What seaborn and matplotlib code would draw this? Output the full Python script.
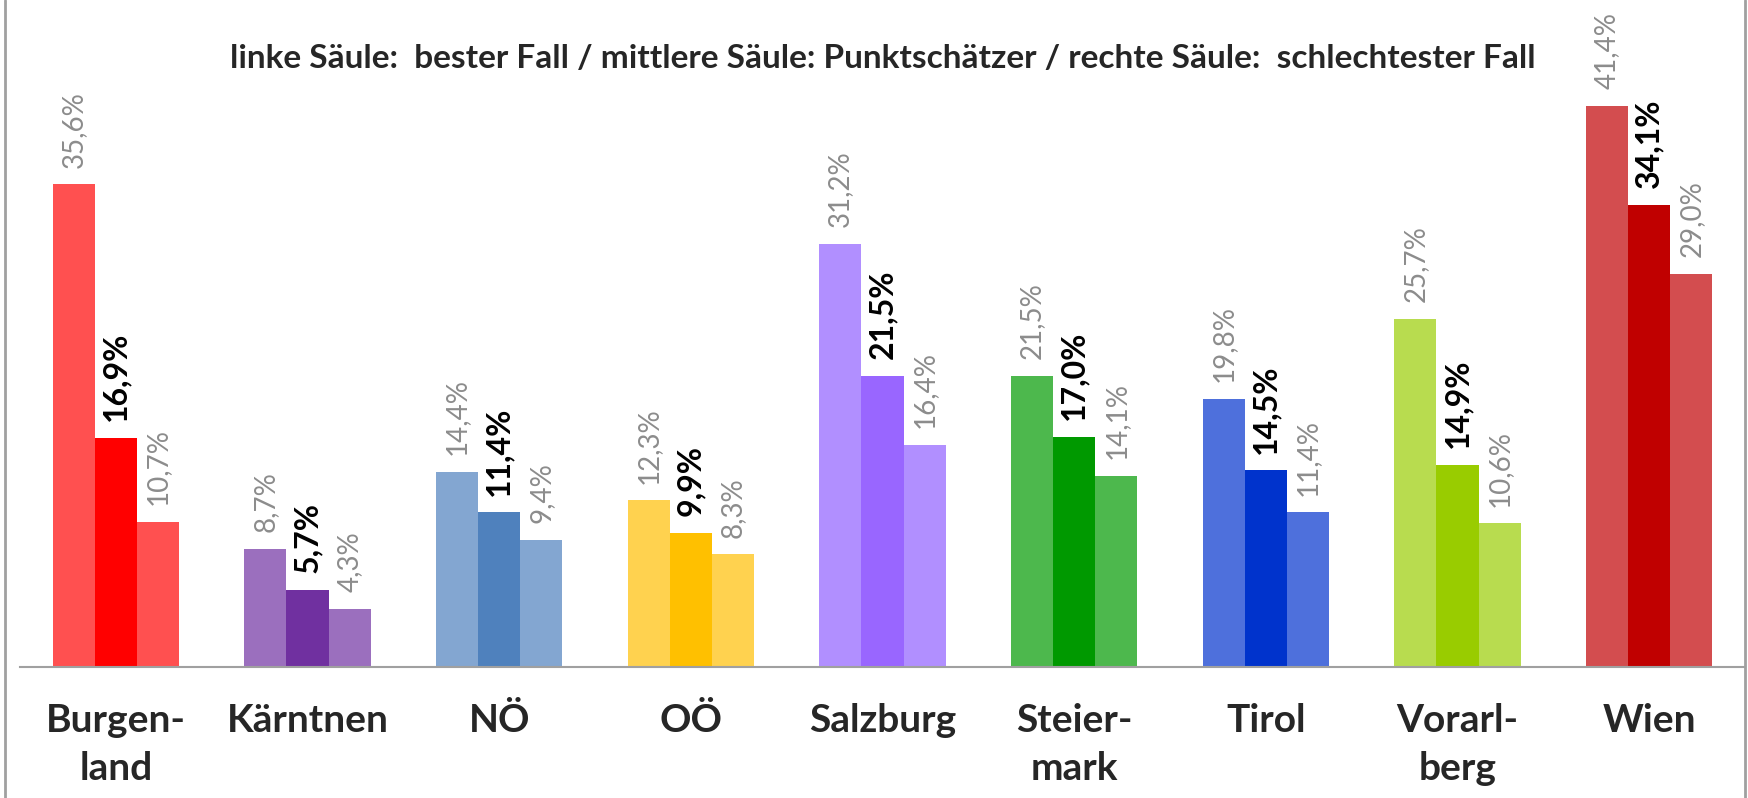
import numpy as np
import matplotlib
matplotlib.use('Agg')
import matplotlib.pyplot as plt
import seaborn as sns
import pandas as pd
from matplotlib.lines import Line2D

# Daten
laender = ['Burgen-\nland', 'Kärntnen', 'NÖ', 'OÖ', 'Salzburg', 'Steier-\nmark', 'Tirol', 'Vorarl-\nberg', 'Wien']
bester_fall = [35.6, 8.7, 14.4, 12.3, 31.2, 21.5, 19.8, 25.7, 41.4]
punktschaetzer = [16.9, 5.7, 11.4, 9.9, 21.5, 17.0, 14.5, 14.9, 34.1]
schlechtester_fall = [10.7, 4.3, 9.4, 8.3, 16.4, 14.1, 11.4, 10.6, 29.0]
faelle = ['bester Fall', 'Punktschätzer', 'schlechtester Fall']

# Farben je Land: aussen (hell) / mitte (kräftig)
farbe_aussen = ['#FF5050', '#9B6FBE', '#83A6D1', '#FFD24F', '#B18FFF', '#4DB84D', '#4E70DC', '#B8DC4F', '#D34D4F']
farbe_mitte = ['#FF0000', '#7030A0', '#4F81BD', '#FFC000', '#9966FF', '#009900', '#0033CC', '#99CC00', '#C00000']

df = pd.DataFrame({
    'Land': laender * 3,
    'Wert': bester_fall + punktschaetzer + schlechtester_fall,
    'Fall': [f for f in faelle for _ in laender],
})

sns.set_style('white')
plt.rcParams['font.family'] = ['Lato', 'DejaVu Sans']

fig = plt.figure(figsize=(17.48, 7.98), dpi=100)
ax = fig.add_axes([20 / 1748, 131 / 798, 1725 / 1748, 667 / 798])

sns.barplot(data=df, x='Land', y='Wert', hue='Fall', hue_order=faelle,
            order=laender, width=0.66, gap=0, legend=False, ax=ax,
            palette=['#cccccc'] * 3, saturation=1)

# Balken einfärben und beschriften
werte = [bester_fall, punktschaetzer, schlechtester_fall]
for k, cont in enumerate(ax.containers):
    farben = farbe_mitte if k == 1 else farbe_aussen
    for bar, c in zip(cont, farben):
        bar.set_facecolor(c)
        bar.set_edgecolor('none')
    labels = [f'{v:.1f}'.replace('.', ',') + '%' for v in werte[k]]
    if k == 1:
        ax.bar_label(cont, labels=labels, rotation=90, padding=12,
                     fontsize=23, fontweight='bold', color='black')
    else:
        ax.bar_label(cont, labels=labels, rotation=90, padding=12,
                     fontsize=20, color='#8c8c8c')

ax.set_ylim(0, 49.2)
ax.set_xlim(-0.5, 8.5)
ax.set_yticks([])
ax.set_xlabel('')
ax.set_ylabel('')
for s in ['left', 'top', 'right']:
    ax.spines[s].set_visible(False)
ax.spines['bottom'].set_color('#a0a0a0')
ax.spines['bottom'].set_linewidth(1.5)

# Trennstriche zwischen den Ländern, Beschriftung in der Mitte
ax.set_xticks(np.arange(-0.5, 9, 1))
ax.set_xticklabels([])
ax.tick_params(axis='x', which='major', length=11, width=1.5, color='#a0a0a0', direction='out')
ax.set_xticks(np.arange(9), minor=True)
ax.set_xticklabels(laender, minor=True, fontsize=28, fontweight='bold', linespacing=1.45)
ax.tick_params(axis='x', which='minor', length=0, pad=26)

fig.text(883 / 1748, 1 - 58 / 798,
         'linke Säule:  bester Fall / mittlere Säule: Punktschätzer / rechte Säule:  schlechtester Fall',
         ha='center', va='center', fontsize=24, fontweight='bold')

# Rahmen des Diagramms
fig.add_artist(Line2D([5 / 1748, 5 / 1748], [0, 1], color='#a0a0a0', lw=2))
fig.add_artist(Line2D([1745 / 1748, 1745 / 1748], [0, 1], color='#a0a0a0', lw=2))

fig.savefig('out.png', dpi=100)
